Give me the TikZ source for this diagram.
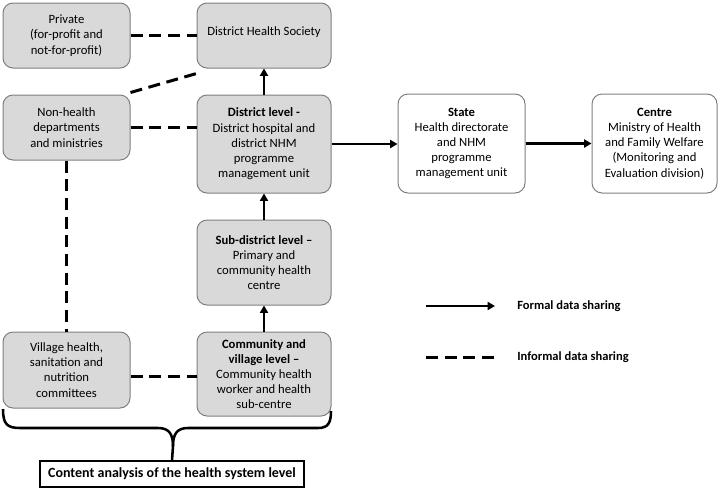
\documentclass[tikz,border=0pt]{standalone}
\usepackage{xcolor}
\usepackage{fontspec}
\setmainfont{Carlito}
\usetikzlibrary{arrows.meta}

\definecolor{boxgrey}{RGB}{217,217,217}
\definecolor{edgegrey}{RGB}{127,127,127}

\begin{document}
\begin{tikzpicture}[x=0.75pt,y=0.75pt,yscale=-1,xscale=1,
  levelbox/.style={draw=edgegrey,fill=boxgrey,rounded corners=7.5pt,line width=0.75pt,
    align=center,inner sep=0.75pt,font=\fontsize{9.5}{11.4}\selectfont},
  govbox/.style={levelbox,fill=white},
  formal/.style={line width=1.9pt,-{Triangle[length=5.5pt,width=6pt]}},
  informal/.style={line width=2.25pt,dash pattern=on 9pt off 5pt},
  legtext/.style={anchor=west,inner sep=0.75pt,font=\fontsize{9.4}{11.4}\selectfont\bfseries}]
%set diagram size 720 x 490
\useasboundingbox (0,0) rectangle (720,490);

%Shape: Rounded Rect [id:private]
\node [levelbox,minimum width=95.25pt,minimum height=48.75pt] (private) at (66.5,35.5) {Private\\(for-profit and\\not-for-profit)};
%Shape: Rounded Rect [id:dhs]
\node [levelbox,minimum width=100.5pt,minimum height=48.75pt] (dhs) at (264,35.5) {\raisebox{6pt}{District Health Society}};
%Shape: Rounded Rect [id:nonhealth]
\node [levelbox,minimum width=95.25pt,minimum height=48.75pt] (nonhealth) at (66.5,127.5) {Non-health\\departments\\and ministries};
%Shape: Rounded Rect [id:district]
\node [levelbox,minimum width=100.5pt,minimum height=73.5pt] (district) at (264,144) {\textbf{District level -}\\District hospital and\\district NHM\\programme\\management unit};
%Shape: Rounded Rect [id:subdistrict]
\node [levelbox,minimum width=100.5pt,minimum height=63.75pt] (subdistrict) at (264,262.5) {\textbf{Sub-district level --}\\Primary and\\community health\\centre};
%Shape: Rounded Rect [id:community]
\node [levelbox,minimum width=100.5pt,minimum height=63pt] (community) at (264,374) {\textbf{Community and}\\\textbf{village level --}\\Community health\\worker and health\\sub-centre};
%Shape: Rounded Rect [id:village]
\node [levelbox,minimum width=95.25pt,minimum height=57pt] (village) at (66.5,370) {Village health,\\sanitation and\\nutrition\\committees};
%Shape: Rounded Rect [id:state]
\node [govbox,minimum width=95.25pt,minimum height=74.25pt] (state) at (461.5,143.5) {\textbf{State}\\Health directorate\\and NHM\\programme\\management unit};
%Shape: Rounded Rect [id:centre]
\node [govbox,minimum width=93.75pt,minimum height=74.25pt] (centre) at (654.5,143.5) {\textbf{Centre}\\Ministry of Health\\and Family Welfare\\(Monitoring and\\Evaluation division)};
%Shape: Rectangle [id:content]
\node [draw,line width=0.9pt,minimum width=198pt,minimum height=19.5pt,inner sep=0.75pt,
  font=\fontsize{10.5}{12}\selectfont\bfseries] (content) at (172,474) {Content analysis of the health system level};

%Straight Lines (formal)
\draw [formal] (community) -- (subdistrict);
\draw [formal] (subdistrict) -- (district);
\draw [formal] (district) -- (dhs);
\draw [formal] (district.east) -- (district.east -| state.west);
\draw [formal] (state.east) -- (state.east -| centre.west);

%Straight Lines (informal)
\draw [informal] (private.east) -- (dhs.west);
\draw [informal] ([yshift=-1.5pt]nonhealth.north east) -- ([yshift=3.75pt]dhs.south west);
\draw [informal] (nonhealth.east) -- (nonhealth.east -| district.west);
\draw [informal] (nonhealth.south) -- (village.north);
\draw [informal] ([yshift=4.5pt]village.east) -- ([yshift=4.5pt]village.east -| community.west);

%Shape: Brace
\draw [line width=1.9pt] (3,409) .. controls (3,424) and (7,428) .. (20,428) -- (158,428) .. controls (169,428) and (173,434) .. (173,446) -- (content.north);
\draw [line width=1.9pt] (173,446) .. controls (173,434) and (177,428) .. (188,428) -- (318,428) .. controls (328,428) and (331,423) .. (331,411);

%Legend
\coordinate (f1) at (426,306);
\coordinate (f2) at (495,306);
\coordinate (i1) at (426,357);
\coordinate (i2) at (495,357);
\draw [formal] (f1) -- (f2);
\draw [informal] (i1) -- (i2);
% Text Node
\node [legtext] (formaltxt) at (516,306) {Formal data sharing};
% Text Node
\node [legtext] (informaltxt) at (516,357) {Informal data sharing};

\end{tikzpicture}
\end{document}
